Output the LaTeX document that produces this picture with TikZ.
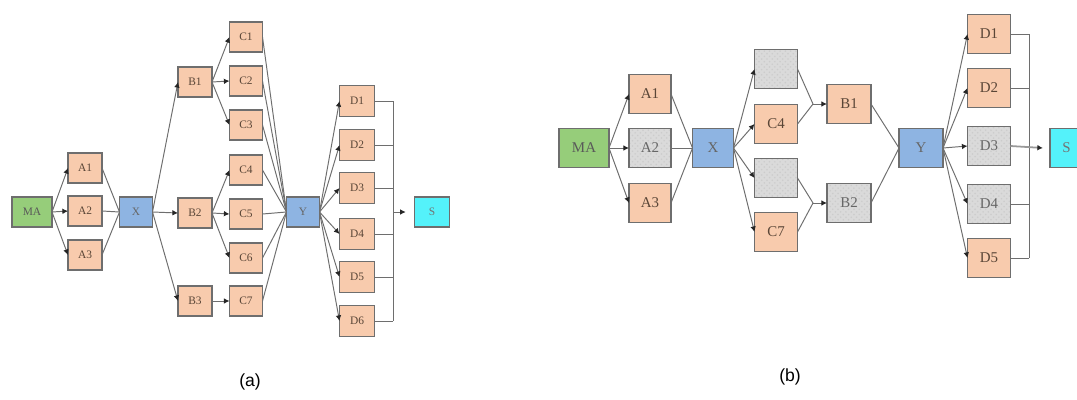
\documentclass[tikz,border=0pt]{standalone}
\usepackage{fontspec}
\setmainfont{Liberation Serif}
\newfontfamily\labfont{Liberation Sans}
\usetikzlibrary{arrows.meta,patterns}
\definecolor{peach}{RGB}{248,203,173}
\definecolor{mgreen}{RGB}{150,205,122}
\definecolor{mblue}{RGB}{142,180,226}
\definecolor{mcyan}{RGB}{84,242,250}
\definecolor{mgray}{RGB}{218,218,218}
\definecolor{edge}{RGB}{110,110,110}
\definecolor{txt}{RGB}{90,70,55}
\tikzset{
  bx/.style={draw=edge, line width=0.6pt, fill=peach, text=txt, inner sep=0pt, outer sep=0pt},
  sa/.style={bx, minimum width=0.68cm, minimum height=0.6cm, font=\fontsize{6.5}{7}\selectfont},
  sb/.style={bx, minimum width=0.86cm, minimum height=0.77cm, font=\fontsize{8.5}{9}\selectfont},
  grn/.style={fill=mgreen, text=black!65},
  blu/.style={fill=mblue, text=black!60},
  cyn/.style={fill=mcyan, text=black!55},
  gry/.style={preaction={fill=mgray}, pattern=crosshatch dots, pattern color=black!20, text=black!60},
  ln/.style={draw=edge, line width=0.55pt},
  arr/.style={ln, -{Latex[length=3.2pt,width=3.2pt,color=black!85]}},
  lab/.style={font=\labfont\fontsize{10}{12}\selectfont, text=black},
}
\begin{document}
\begin{tikzpicture}[x=0.02cm, y=-0.02cm]
\useasboundingbox (0,0) rectangle (1077,399);
\fill[white] (0,0) rectangle (1077,399);
% ---------------- (a) ----------------
\node[sa,grn,minimum width=0.8cm] (MAa) at (32,212) {MA};
\node[sa] (A1a) at (85,168) {A1};
\node[sa] (A2a) at (85,211) {A2};
\node[sa] (A3a) at (85,255) {A3};
\node[sa,blu,minimum width=0.66cm] (Xa) at (136,212) {X};
\node[sa] (B1a) at (195,82) {B1};
\node[sa] (B2a) at (195,213) {B2};
\node[sa] (B3a) at (195,301) {B3};
\node[sa,minimum width=0.66cm] (C1a) at (246,37) {C1};
\node[sa,minimum width=0.66cm] (C2a) at (246,81) {C2};
\node[sa,minimum width=0.66cm] (C3a) at (246,125) {C3};
\node[sa,minimum width=0.66cm] (C4a) at (246,170) {C4};
\node[sa,minimum width=0.66cm] (C5a) at (246,214) {C5};
\node[sa,minimum width=0.66cm] (C6a) at (246,258) {C6};
\node[sa,minimum width=0.66cm] (C7a) at (246,301) {C7};
\node[sa,blu,minimum width=0.66cm] (Ya) at (303,212) {Y};
\node[sa,minimum width=0.7cm,minimum height=0.62cm] (D1a) at (357,101) {D1};
\node[sa,minimum width=0.7cm,minimum height=0.62cm] (D2a) at (357,145) {D2};
\node[sa,minimum width=0.7cm,minimum height=0.62cm] (D3a) at (357,188) {D3};
\node[sa,minimum width=0.7cm,minimum height=0.62cm] (D4a) at (357,234) {D4};
\node[sa,minimum width=0.7cm,minimum height=0.62cm] (D5a) at (357,277) {D5};
\node[sa,minimum width=0.7cm,minimum height=0.62cm] (D6a) at (357,321) {D6};
\node[sa,cyn,minimum width=0.7cm] (Sa) at (432,212) {S};
\coordinate (busa) at (393,212);
\foreach \a in {A1a,A2a,A3a} {\draw[arr] (MAa.east) -- (\a.west); \draw[ln] (\a.east) -- (Xa.west);}
\foreach \b in {B1a,B2a,B3a} {\draw[arr] (Xa.east) -- (\b.west);}
\foreach \c in {C1a,C2a,C3a} {\draw[arr] (B1a.east) -- (\c.west);}
\foreach \c in {C4a,C5a,C6a} {\draw[arr] (B2a.east) -- (\c.west);}
\draw[arr] (B3a.east) -- (C7a.west);
\foreach \c in {C1a,C2a,C3a,C4a,C5a,C6a,C7a} {\draw[ln] (\c.east) -- (Ya.west);}
\foreach \d in {D1a,D2a,D3a,D4a,D5a,D6a} {\draw[arr] (Ya.east) -- (\d.west); \draw[ln] (\d.east) -- (\d.east -| busa);}
\draw[ln] (D1a.east -| busa) -- (D6a.east -| busa);
\draw[arr] (busa) -- ([xshift=-5pt]Sa.west);
\node[lab] (la) at (250,382) {(a)};
% ---------------- (b) ----------------
\node[sb,grn,minimum width=1.0cm] (MAb) at (584,148) {MA};
\node[sb,minimum width=0.84cm] (A1b) at (650,94) {A1};
\node[sb,gry,minimum width=0.84cm] (A2b) at (650,148) {A2};
\node[sb,minimum width=0.84cm] (A3b) at (650,203) {A3};
\node[sb,blu,minimum width=0.82cm] (Xb) at (713,148) {X};
\node[sb,gry] (G1b) at (776,69) {};
\node[sb] (C4b) at (776,124) {C4};
\node[sb,gry] (G2b) at (776,178) {};
\node[sb] (C7b) at (776,232) {C7};
\node[sb,minimum width=0.88cm] (B1b) at (849,104) {B1};
\node[sb,gry,minimum width=0.88cm] (B2b) at (849,203) {B2};
\node[sb,blu,minimum width=0.88cm] (Yb) at (921,148) {Y};
\node[sb] (D1b) at (989,34) {D1};
\node[sb] (D2b) at (989,88) {D2};
\node[sb,gry] (D3b) at (989,146) {D3};
\node[sb,gry] (D4b) at (989,204) {D4};
\node[sb] (D5b) at (989,258) {D5};
\node[sb,cyn,minimum width=0.86cm,anchor=west] (Sb) at (1050,148) {\hspace*{-0.2cm}S};
\coordinate (J1) at (813,104);
\coordinate (J2) at (813,203);
\coordinate (busb) at (1029,146);
\foreach \a in {A1b,A2b,A3b} {\draw[arr] (MAb.east) -- (\a.west); \draw[ln] (\a.east) -- (Xb.west);}
\foreach \c in {G1b,C4b,G2b,C7b} {\draw[arr] (Xb.east) -- (\c.west);}
\draw[ln] (G1b.east) -- (J1); \draw[ln] (C4b.east) -- (J1); \draw[arr] (J1) -- (B1b.west);
\draw[ln] (G2b.east) -- (J2); \draw[ln] (C7b.east) -- (J2); \draw[arr] (J2) -- (B2b.west);
\draw[ln] (B1b.east) -- (Yb.west); \draw[ln] (B2b.east) -- (Yb.west);
\foreach \d in {D1b,D2b,D3b,D4b,D5b} {\draw[arr] (Yb.east) -- (\d.west);}
\foreach \d in {D1b,D2b,D4b,D5b} {\draw[ln] (\d.east) -- (\d.east -| busb);}
\draw[ln] (D1b.east -| busb) -- (D5b.east -| busb);
\draw[arr, draw=black!40, line width=1pt] (D3b.east) -- ([xshift=-4pt]Sb.west);
\node[lab] (lb) at (790,377) {(b)};
\end{tikzpicture}
\end{document}
